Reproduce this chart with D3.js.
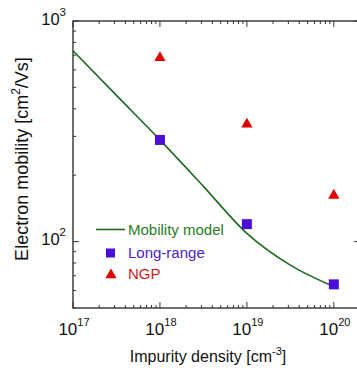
<!DOCTYPE html>
<html>
<head>
<meta charset="utf-8">
<script src="https://cdn.jsdelivr.net/npm/d3@7"></script>
<style>
  body { margin: 0; background: #fff; }
  svg { display: block; font-family: "Liberation Sans", Arial, sans-serif; }
</style>
</head>
<body>
<div id="vis"></div>
<script>
// mobility model curve
var modelDensity = [1e17, 3.162e17, 1e18, 3.162e18, 1e19, 3.162e19, 1e20];
var modelMobility = [733, 460, 289, 178, 109, 78.2, 62.5];

// long-range points
var longRangeDensity = [1e18, 1e19, 1e20];
var longRangeMobility = [289, 120, 64];

// NGP points
var ngpDensity = [1e18, 1e19, 1e20];
var ngpMobility = [682, 340, 162];

var xTickExp = [17, 18, 19, 20];
var yTickExp = [2, 3];

var width = 357, height = 370;
var mLeft = 73, mTop = 21, mRight = 360, mBottom = 308;

var green = '#1c6b1c', purple = '#4b0fd8', red = '#e00000';

var x = d3.scaleLog().domain([1e17, 2e20]).range([mLeft, mRight]);
var y = d3.scaleLog().domain([50, 1000]).range([mBottom, mTop]);

var svg = d3.select('#vis').append('svg')
  .attr('width', width)
  .attr('height', height);

// frame
svg.append('rect')
  .attr('x', mLeft).attr('y', mTop)
  .attr('width', mRight - mLeft).attr('height', mBottom - mTop)
  .attr('fill', 'none')
  .attr('stroke', '#222')
  .attr('stroke-width', 1.3);

function isMajor(t) {
  return Math.abs(Math.log10(t) - Math.round(Math.log10(t))) < 1e-9;
}

// x ticks (bottom and top, pointing inward)
x.ticks().forEach(function (t) {
  var len = isMajor(t) ? 6 : 3;
  svg.append('line')
    .attr('x1', x(t)).attr('x2', x(t))
    .attr('y1', mBottom).attr('y2', mBottom - len)
    .attr('stroke', '#333').attr('stroke-width', 1);
  svg.append('line')
    .attr('x1', x(t)).attr('x2', x(t))
    .attr('y1', mTop).attr('y2', mTop + len)
    .attr('stroke', '#333').attr('stroke-width', 1);
});

// y ticks
y.ticks().forEach(function (t) {
  var len = isMajor(t) ? 6 : 3;
  svg.append('line')
    .attr('x1', mLeft).attr('x2', mLeft + len)
    .attr('y1', y(t)).attr('y2', y(t))
    .attr('stroke', '#333').attr('stroke-width', 1);
  svg.append('line')
    .attr('x1', mRight).attr('x2', mRight - len)
    .attr('y1', y(t)).attr('y2', y(t))
    .attr('stroke', '#333').attr('stroke-width', 1);
});

// x tick labels
xTickExp.forEach(function (e) {
  var t = svg.append('text')
    .attr('x', x(Math.pow(10, e)) + 1)
    .attr('y', 335)
    .attr('text-anchor', 'middle')
    .attr('font-size', 17)
    .attr('fill', '#111');
  t.append('tspan').text('10');
  t.append('tspan').attr('dy', -9).attr('font-size', 11).text(e);
});

// y tick labels
yTickExp.forEach(function (e) {
  var t = svg.append('text')
    .attr('x', 66)
    .attr('y', y(Math.pow(10, e)) + 3.5)
    .attr('text-anchor', 'end')
    .attr('font-size', 16.5)
    .attr('fill', '#111');
  t.append('tspan').text('10');
  t.append('tspan').attr('dy', -9).attr('font-size', 11.5).text(e);
});

// axis titles
var xTitle = svg.append('text')
  .attr('x', 208).attr('y', 362)
  .attr('text-anchor', 'middle')
  .attr('font-size', 16)
  .attr('fill', '#111');
xTitle.append('tspan').text('Impurity density [cm');
xTitle.append('tspan').attr('dy', -7).attr('font-size', 11).text('-3');
xTitle.append('tspan').attr('dy', 7).text(']');

var yTitle = svg.append('text')
  .attr('transform', 'translate(28,159) rotate(-90)')
  .attr('text-anchor', 'middle')
  .attr('font-size', 18)
  .attr('fill', '#111');
yTitle.append('tspan').text('Electron mobility [cm');
yTitle.append('tspan').attr('dy', -8).attr('font-size', 12).text('2');
yTitle.append('tspan').attr('dy', 8).text('/Vs]');

// model curve
var line = d3.line()
  .x(function (d) { return x(d[0]); })
  .y(function (d) { return y(d[1]); })
  .curve(d3.curveMonotoneX);

svg.append('path')
  .datum(d3.zip(modelDensity, modelMobility))
  .attr('d', line)
  .attr('fill', 'none')
  .attr('stroke', green)
  .attr('stroke-width', 1.6);

// long-range squares
svg.selectAll('.sq')
  .data(d3.zip(longRangeDensity, longRangeMobility))
  .enter().append('rect')
  .attr('class', 'sq')
  .attr('x', function (d) { return x(d[0]) - 5; })
  .attr('y', function (d) { return y(d[1]) - 5; })
  .attr('width', 10).attr('height', 10)
  .attr('fill', purple);

// NGP triangles
var tri = d3.symbol().type(d3.symbolTriangle).size(55);
svg.selectAll('.tri')
  .data(d3.zip(ngpDensity, ngpMobility))
  .enter().append('path')
  .attr('class', 'tri')
  .attr('transform', function (d) { return 'translate(' + x(d[0]) + ',' + y(d[1]) + ')'; })
  .attr('d', tri)
  .attr('fill', red);

// legend
var lg = svg.append('g');
lg.append('line')
  .attr('x1', 96).attr('x2', 125)
  .attr('y1', 229.5).attr('y2', 229.5)
  .attr('stroke', green).attr('stroke-width', 1.6);
lg.append('text')
  .attr('x', 128).attr('y', 235)
  .attr('font-size', 15).attr('fill', '#2b7a2b')
  .text('Mobility model');

lg.append('rect')
  .attr('x', 106).attr('y', 248.5)
  .attr('width', 9).attr('height', 9)
  .attr('fill', purple);
lg.append('text')
  .attr('x', 128).attr('y', 258)
  .attr('font-size', 15).attr('fill', '#4a22d0')
  .text('Long-range');

lg.append('path')
  .attr('transform', 'translate(111,275)')
  .attr('d', tri)
  .attr('fill', red);
lg.append('text')
  .attr('x', 128).attr('y', 279)
  .attr('font-size', 15).attr('fill', '#d01818')
  .text('NGP');
</script>
</body>
</html>
